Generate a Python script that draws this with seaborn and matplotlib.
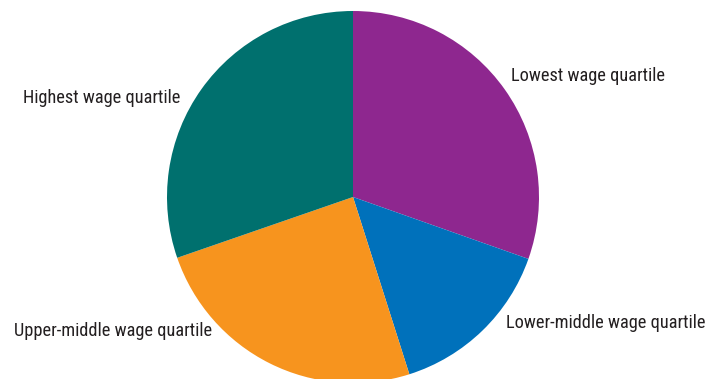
import matplotlib
matplotlib.use("Agg")

import matplotlib.pyplot as plt
import seaborn as sns

# wage quartile shares (clockwise from 12 o'clock)
categories = ["Lowest wage quartile", "Lower-middle wage quartile",
              "Upper-middle wage quartile", "Highest wage quartile"]
shares = [30.4, 14.7, 24.6, 30.3]
colors = ["#8E278F", "#0071BB", "#F7941E", "#00706E"]

# label anchors in pie units (radius = 1)
label_x = [0.85, 0.82, -0.76, -0.93]
label_y = [0.65, -0.68, -0.72, 0.53]
label_ha = ["left", "left", "right", "right"]

sns.set_theme(style="white")
plt.rcParams["font.family"] = ["Roboto Condensed", "DejaVu Sans"]

fig = plt.figure(figsize=(7.09, 3.79), dpi=100)
# pie centre at (353, 197) px from top-left, radius 186 px
cx, cy, r = 353, 379 - 197, 186
ax = fig.add_axes([(cx - r) / 709, (cy - r) / 379, 2 * r / 709, 2 * r / 379])
wedges, _ = ax.pie(shares, colors=sns.color_palette(colors), startangle=90,
                   counterclock=False, radius=1,
                   wedgeprops=dict(linewidth=0, antialiased=True))
for w in wedges:
    w.set_clip_on(False)
ax.set_xlim(-1, 1)
ax.set_ylim(-1, 1)
ax.set_aspect("equal")
ax.axis("off")

for name, x, y, ha in zip(categories, label_x, label_y, label_ha):
    ax.text(x, y, name, ha=ha, va="center", fontsize=13.2, color="#231F20")

fig.savefig("out.png", dpi=100)
